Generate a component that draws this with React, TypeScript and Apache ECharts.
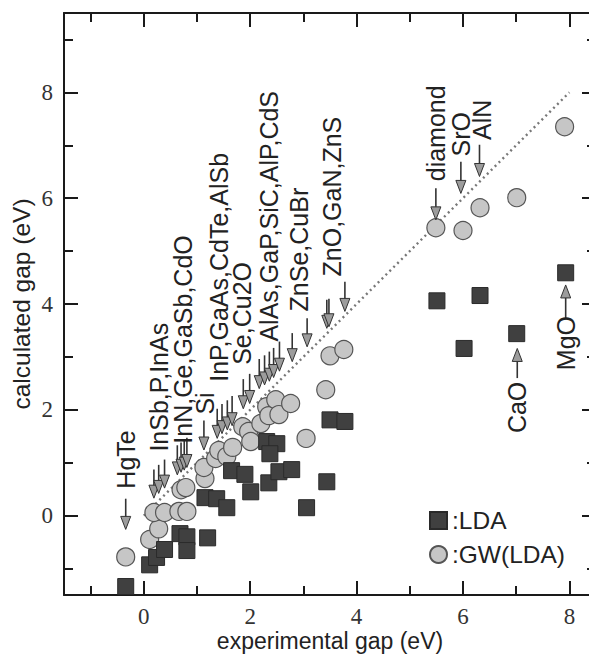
import React, { useEffect, useRef } from "react";
import * as echarts from "echarts";

// GW(LDA) circles
const gwX = [-0.34, 0.11, 0.28, 0.19, 0.39, 0.66, 0.81, 0.7, 0.79, 1.15, 1.13, 1.35, 1.41, 1.56, 1.67, 1.86, 1.97, 2.01, 2.2, 2.31, 2.35, 2.48, 2.54, 2.76, 3.05, 3.42, 3.5, 3.76, 5.49, 6.0, 6.32, 7.01, 7.91];
const gwY = [-0.78, -0.45, -0.25, 0.06, 0.06, 0.08, 0.08, 0.49, 0.53, 0.7, 0.91, 1.08, 1.23, 1.12, 1.29, 1.68, 1.59, 1.4, 1.74, 2.06, 1.89, 2.19, 1.91, 2.12, 1.46, 2.38, 3.02, 3.14, 5.44, 5.39, 5.82, 6.01, 7.35];

// LDA squares
const ldaX = [-0.34, 0.11, 0.24, 0.39, 0.68, 0.81, 0.81, 1.2, 1.15, 1.37, 1.56, 1.65, 1.9, 2.01, 2.31, 2.5, 2.37, 2.35, 2.54, 2.78, 3.06, 3.44, 3.5, 3.78, 5.51, 6.02, 6.32, 7.01, 7.93];
const ldaY = [-1.34, -0.93, -0.79, -0.64, -0.34, -0.4, -0.66, -0.42, 0.34, 0.32, 0.15, 0.85, 0.78, 0.45, 1.4, 1.36, 1.17, 0.62, 0.83, 0.87, 0.15, 0.64, 1.81, 1.78, 4.06, 3.16, 4.16, 3.44, 4.59];

// y = x reference line
const diagX = [0, 8];
const diagY = [0, 8];

// arrows: x, tip y, tail y
const arrowX = [-0.34, 0.19, 0.28, 0.39, 0.63, 0.7, 0.76, 0.81, 1.13, 1.38, 1.47, 1.57, 1.66, 1.87, 1.99, 2.17, 2.27, 2.36, 2.44, 2.55, 2.79, 3.07, 3.44, 3.48, 3.78, 5.49, 5.96, 6.31, 7.02, 7.93];
const arrowTip = [-0.26, 0.33, 0.42, 0.52, 0.77, 0.82, 0.86, 0.91, 1.24, 1.46, 1.55, 1.62, 1.7, 2.02, 2.12, 2.4, 2.47, 2.54, 2.61, 2.73, 2.91, 3.19, 3.54, 3.57, 3.86, 5.59, 6.09, 6.41, 3.16, 4.36];
const arrowTail = [0.32, 0.87, 0.96, 1.06, 1.33, 1.38, 1.42, 1.47, 1.8, 2.02, 2.11, 2.18, 2.26, 2.58, 2.68, 2.96, 3.03, 3.1, 3.17, 3.29, 3.45, 3.73, 4.08, 4.1, 4.42, 6.19, 6.69, 7.01, 2.6, 3.73];

// labels
const labelText = ["HgTe", "InSb,P,InAs", "InN,Ge,GaSb,CdO", "Si", "InP,GaAs,CdTe,AlSb", "Se,Cu2O", "AlAs,GaP,SiC,AlP,CdS", "ZnSe,CuBr", "ZnO,GaN,ZnS", "diamond", "SrO", "AlN", "CaO", "MgO"];
const labelX = [-0.34, 0.28, 0.74, 1.15, 1.41, 1.85, 2.35, 2.91, 3.54, 5.49, 5.96, 6.36, 7.02, 7.93];
const labelY = [0.51, 1.21, 1.36, 1.91, 2.53, 2.85, 3.29, 3.86, 4.52, 6.32, 6.79, 7.1, 1.56, 2.75];

const majorTicks = [0, 2, 4, 6, 8];
const xMinorTicks = [-1, 1, 3, 5, 7];
const yMinorTicks = [-1, 1, 3, 5, 7, 9];

const INK = "#1a1a1a";
const SANS = "'Liberation Sans', Arial, sans-serif";
const SERIF = "'Liberation Serif', 'Times New Roman', serif";

function mkAxis(kind: "x" | "y", position: string, ticks: number[], long: boolean, showLine: boolean, showLabel: boolean, extra: any = {}) {
  return {
    type: "value",
    position,
    min: -1.5,
    max: kind === "x" ? 8.5 : 9.5,
    splitLine: { show: false },
    axisLine: { show: showLine, onZero: false, lineStyle: { color: INK, width: 2 } },
    axisTick: {
      show: true,
      inside: true,
      length: long ? 14 : 9,
      customValues: ticks,
      lineStyle: { color: INK, width: 2 },
    },
    axisLabel: showLabel
      ? { show: true, customValues: ticks, fontFamily: SERIF, fontSize: 23, lineHeight: 21, color: "#333", margin: 11 }
      : { show: false },
    ...extra,
  };
}

export default function App() {
  const ref = useRef<HTMLDivElement>(null);
  useEffect(() => {
    if (!ref.current) return;
    const chart = echarts.init(ref.current, null, { renderer: "svg" });
    const option: any = {
      animation: false,
      backgroundColor: "#ffffff",
      grid: { left: 64, top: 13, width: 532, height: 582, containLabel: false, outerBoundsMode: "none" },
      legend: {
        data: ["LDA", "GW(LDA)"],
        orient: "vertical",
        left: 429,
        top: 508,
        padding: 0,
        itemWidth: 17,
        itemHeight: 17,
        itemGap: 9,
        formatter: (n: string) => ":" + n,
        textStyle: { fontFamily: SANS, fontSize: 24.5, color: "#222" },
      },
      xAxis: [
        mkAxis("x", "bottom", majorTicks, true, true, true, {
          name: "experimental gap (eV)",
          nameLocation: "middle",
          nameGap: 35,
          nameMoveOverlap: false,
          nameTextStyle: { fontFamily: SANS, fontSize: 23, color: "#222", lineHeight: 21 },
        }),
        mkAxis("x", "bottom", xMinorTicks, false, false, false),
        mkAxis("x", "top", majorTicks, true, true, false),
        mkAxis("x", "top", xMinorTicks, false, false, false),
      ],
      yAxis: [
        mkAxis("y", "left", majorTicks, true, true, true, {
          name: "calculated gap (eV)",
          nameLocation: "middle",
          nameGap: 30,
          nameMoveOverlap: false,
          nameTextStyle: { fontFamily: SANS, fontSize: 24.5, color: "#222" },
        }),
        mkAxis("y", "left", yMinorTicks, false, false, false),
        mkAxis("y", "right", majorTicks, true, true, false),
        mkAxis("y", "right", yMinorTicks, false, false, false),
      ],
      series: [
        {
          type: "line",
          name: "diag",
          data: diagX.map((x, i) => [x, diagY[i]]),
          showSymbol: false,
          symbol: "none",
          lineStyle: { color: "#777", width: 2.4, type: [2, 3.5] },
          z: 1,
          silent: true,
        },
        {
          type: "scatter",
          name: "GW(LDA)",
          data: gwX.map((x, i) => [x, gwY[i]]),
          symbol: "circle",
          symbolSize: 18,
          itemStyle: { color: "#c6c6c6", borderColor: "#555", borderWidth: 1.2, opacity: 1 },
          z: 2,
        },
        {
          type: "scatter",
          name: "LDA",
          data: ldaX.map((x, i) => [x, ldaY[i]]),
          symbol: "rect",
          symbolSize: 16,
          itemStyle: { color: "#404040", borderColor: "#2a2a2a", borderWidth: 1, opacity: 1 },
          z: 3,
        },
        {
          type: "custom",
          name: "arrows",
          data: arrowX.map((x, i) => [x, arrowTip[i], arrowTail[i]]),
          encode: { x: 0, y: 1 },
          z: 4,
          silent: true,
          renderItem: (params: any, api: any) => {
            const x = api.value(0);
            const tip = api.coord([x, api.value(1)]);
            const tail = api.coord([x, api.value(2)]);
            const dir = tip[1] > tail[1] ? 1 : -1;
            const headLen = 13;
            const half = 5;
            const base = tip[1] - dir * headLen;
            return {
              type: "group",
              children: [
                {
                  type: "line",
                  shape: { x1: tail[0], y1: tail[1], x2: tip[0], y2: tip[1] - dir * 3 },
                  style: { stroke: "#333", lineWidth: 1.6 },
                },
                {
                  type: "polygon",
                  shape: { points: [[tip[0] - half, base], [tip[0] + half, base], [tip[0], tip[1]]] },
                  style: { fill: "#9c9c9c", stroke: "#333", lineWidth: 1 },
                },
              ],
            };
          },
        },
        {
          type: "custom",
          name: "labels",
          data: labelX.map((x, i) => [x, labelY[i]]),
          encode: { x: 0, y: 1 },
          z: 5,
          silent: true,
          renderItem: (params: any, api: any) => {
            const p = api.coord([api.value(0), api.value(1)]);
            return {
              type: "text",
              x: p[0],
              y: p[1],
              rotation: Math.PI / 2,
              style: {
                text: labelText[params.dataIndex],
                fontFamily: SANS,
                fontSize: 25,
                fill: "#222",
                align: "left",
                verticalAlign: "middle",
              },
            };
          },
        },
      ],
    };
    chart.setOption(option);
    return () => chart.dispose();
  }, []);
  return (
    <div style={{ position: "absolute", left: 0, top: 0, width: 589, height: 656, overflow: "hidden", background: "#fff" }}>
      <div ref={ref} style={{ width: 600, height: 656 }} />
    </div>
  );
}
